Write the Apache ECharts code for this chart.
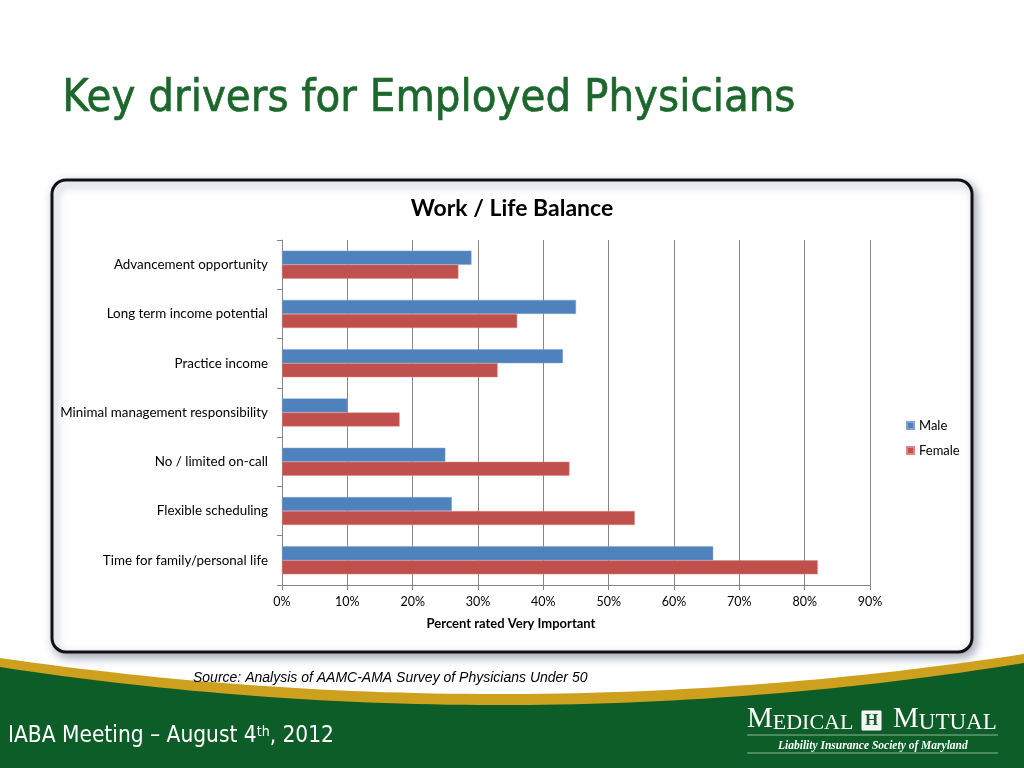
<!DOCTYPE html>
<html>
<head>
<meta charset="utf-8">
<script src="https://cdn.jsdelivr.net/npm/echarts@6/dist/echarts.min.js"></script>
<style>
html,body{margin:0;padding:0;background:#fff;}
#c{width:1024px;height:768px;}
</style>
</head>
<body>
<div id="c"></div>
<script>
var categories = [
  'Advancement opportunity',
  'Long term income potential',
  'Practice income',
  'Minimal management responsibility',
  'No / limited on-call',
  'Flexible scheduling',
  'Time for family/personal life'
];
var maleValues = [29, 45, 43, 10, 25, 26, 66];
var femaleValues = [27, 36, 33, 18, 44, 54, 82];
var seriesNames = ['Male', 'Female'];
var xTicks = [0, 10, 20, 30, 40, 50, 60, 70, 80, 90];

// decorative swoosh outline (quadratic curve) for the footer background
function swoosh(y0, yc, y1) {
  var pts = [];
  for (var i = 0; i <= 64; i++) {
    var t = i / 64;
    var x = 1024 * t;
    var y = (1 - t) * (1 - t) * y0 + 2 * t * (1 - t) * yc + t * t * y1;
    pts.push([x, y]);
  }
  pts.push([1024, 768]);
  pts.push([0, 768]);
  return pts;
}

var chart = echarts.init(document.getElementById('c'), null, {renderer: 'canvas'});
var labelFont = 'Lato, "Open Sans", sans-serif';
var tahomaLike = '"DejaVu Sans Condensed", "DejaVu Sans", sans-serif';

var option = {
  backgroundColor: '#ffffff',
  animation: false,
  title: {
    text: 'Work / Life Balance',
    left: 'center',
    top: 192,
    textStyle: {fontFamily: labelFont, fontSize: 23, fontWeight: 'bold', color: '#000'}
  },
  legend: {
    data: seriesNames,
    orient: 'vertical',
    left: 901,
    top: 414,
    itemWidth: 7,
    itemHeight: 7,
    itemGap: 12,
    icon: 'rect',
    textStyle: {fontFamily: labelFont, fontSize: 13, color: '#000'}
  },
  grid: {left: 282, right: 154, top: 240, bottom: 183, containLabel: false},
  xAxis: {
    type: 'value',
    min: xTicks[0],
    max: xTicks[xTicks.length - 1],
    interval: 10,
    axisLine: {show: true, lineStyle: {color: '#868686', width: 1}},
    axisTick: {show: true, length: 5, inside: false, lineStyle: {color: '#868686'}},
    axisLabel: {formatter: '{value}%', margin: 10, fontFamily: labelFont, fontSize: 12.5, color: '#000'},
    splitLine: {show: true, lineStyle: {color: '#868686', width: 1}}
  },
  yAxis: {
    type: 'category',
    data: categories,
    inverse: true,
    axisLine: {show: true, lineStyle: {color: '#868686', width: 1}},
    axisTick: {show: true, length: 5, lineStyle: {color: '#868686'}},
    axisLabel: {margin: 14, fontFamily: labelFont, fontSize: 13.4, color: '#000'}
  },
  series: [
    {
      name: seriesNames[0], type: 'bar', data: maleValues,
      barWidth: 14, barGap: '0%',
      itemStyle: {color: '#4F81BD', borderColor: '#7EA3D2', borderWidth: 0.5}
    },
    {
      name: seriesNames[1], type: 'bar', data: femaleValues,
      barWidth: 14, barGap: '0%',
      itemStyle: {color: '#C0504D', borderColor: '#D88785', borderWidth: 0.5}
    }
  ],
  graphic: [
    {
      type: 'rect', z: -10, silent: true,
      shape: {x: 52, y: 180, width: 920, height: 472, r: 14},
      style: {fill: '#ffffff', stroke: '#111', lineWidth: 3,
        shadowBlur: 10, shadowColor: 'rgba(90,100,130,0.55)', shadowOffsetX: 3, shadowOffsetY: 4}
    },
    {
      type: 'polygon', z: -5, silent: true,
      shape: {points: swoosh(658, 732, 654)},
      style: {fill: '#CDA11E'}
    },
    {
      type: 'polygon', z: -4, silent: true,
      shape: {points: swoosh(667, 745, 663)},
      style: {fill: '#0D5D28'}
    },
    // x-axis title (centred on the chart area, as in the original)
    {
      type: 'text', z: 5, silent: true,
      x: 511, y: 624,
      style: {
        text: 'Percent rated Very Important',
        font: 'bold 13px Lato, "Open Sans", sans-serif',
        fill: '#000', align: 'center', verticalAlign: 'middle'
      }
    },
    {
      type: 'text', z: 5, silent: true,
      left: 62, top: 77,
      style: {
        text: 'Key drivers for Employed Physicians',
        font: '45px ' + tahomaLike,
        fill: '#1C672C',
        stroke: '#1C672C', lineWidth: 0.6,
        shadowColor: 'rgba(0,0,0,0.45)', shadowBlur: 2, shadowOffsetX: 2, shadowOffsetY: 2
      }
    },
    {
      type: 'text', z: 5, silent: true,
      left: 193, top: 671,
      style: {
        text: 'Source: Analysis of AAMC-AMA Survey of Physicians Under 50',
        font: 'italic 14px "Liberation Sans", Arial, sans-serif',
        fill: '#000'
      }
    },
    {
      type: 'text', z: 5, silent: true,
      left: 8, top: 725,
      style: {
        text: '{n|IABA Meeting – August 4}{sup|th}{n|, 2012}',
        fill: '#ffffff',
        rich: {
          n: {fontSize: 22.5, fill: '#fff', fontFamily: tahomaLike, verticalAlign: 'bottom'},
          sup: {fontSize: 14, fill: '#fff', fontFamily: tahomaLike, verticalAlign: 'top'}
        }
      }
    },
    {
      type: 'text', z: 5, silent: true,
      left: 747, top: 705,
      style: {
        text: '{b|M}{s|EDICAL}',
        fill: '#fff',
        rich: {
          b: {fontFamily: '"Liberation Serif", serif', fontSize: 29, fill: '#fff', verticalAlign: 'bottom'},
          s: {fontFamily: '"Liberation Serif", serif', fontSize: 22, fill: '#fff', verticalAlign: 'bottom'}
        }
      }
    },
    {
      type: 'rect', z: 5, silent: true,
      shape: {x: 862, y: 711, width: 19, height: 19},
      style: {fill: '#f2f2f2', stroke: '#fff', lineWidth: 1}
    },
    {
      type: 'text', z: 6, silent: true,
      left: 865, top: 712,
      style: {text: 'H', font: 'bold 17px "Liberation Serif", serif', fill: '#0D5D28'}
    },
    {
      type: 'text', z: 5, silent: true,
      left: 893, top: 705,
      style: {
        text: '{b|M}{s|UTUAL}',
        fill: '#fff',
        rich: {
          b: {fontFamily: '"Liberation Serif", serif', fontSize: 29, fill: '#fff', verticalAlign: 'bottom'},
          s: {fontFamily: '"Liberation Serif", serif', fontSize: 23, fill: '#fff', verticalAlign: 'bottom'}
        }
      }
    },
    {
      type: 'line', z: 5, silent: true,
      shape: {x1: 747, y1: 735, x2: 998, y2: 735},
      style: {stroke: '#8fb59a', lineWidth: 1}
    },
    {
      type: 'text', z: 5, silent: true,
      left: 778, top: 740,
      style: {text: 'Liability Insurance Society of Maryland', font: 'italic bold 11.5px "Liberation Serif", serif', fill: '#fff'}
    },
    {
      type: 'line', z: 5, silent: true,
      shape: {x1: 747, y1: 753, x2: 998, y2: 753},
      style: {stroke: '#8fb59a', lineWidth: 1}
    }
  ]
};
chart.setOption(option);
</script>
</body>
</html>
